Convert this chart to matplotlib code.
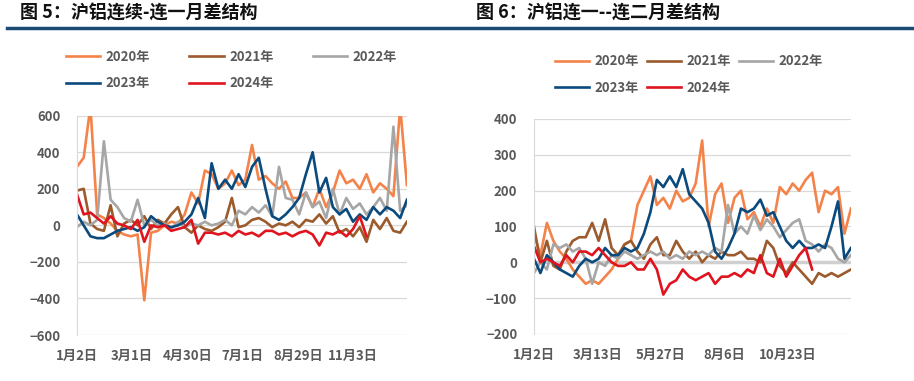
import numpy as np
import matplotlib
matplotlib.use("Agg")
import matplotlib.pyplot as plt

plt.rcParams['font.family'] = ['Noto Sans CJK SC', 'DejaVu Sans']

# values read every 5 trading days (day 0 = 1月2日)
years = ['2020年', '2021年', '2022年', '2023年', '2024年']
colors = ['#F4834A', '#9C5B2C', '#A6A6A6', '#0B4A7D', '#E0141F']

# 图5: 连续-连一
left_2020 = [320, 370, 650, 60, 40, 10, -30, -50, -60, -50, -410, -40, -30, 0, 20, 10,
             60, 180, 120, 300, 280, 200, 230, 300, 220, 250, 440, 250, 270, 230, 200,
             240, 150, 150, 180, 100, 200, 100, 180, 300, 230, 250, 200, 280, 180, 230,
             200, 160, 650, 220]
left_2021 = [190, 200, 10, -20, -30, 110, -60, 10, 30, 0, 50, -20, 30, 10, 60, 100,
             -10, -40, 0, -20, -30, -10, 20, 150, -10, 0, 30, 40, 20, -10, 10, 0, 20,
             -10, 30, 20, 60, 10, 50, -40, -20, -60, -10, -90, 30, -20, 40, -30, -40, 20]
left_2022 = [-10, 20, 0, 30, 460, 140, 100, 40, 20, 140, 0, 30, 0, 10, -20, 20, -10,
             10, 0, 20, 0, 10, 30, 0, 80, 60, 100, 70, 110, 50, 320, 150, 140, 60, 180,
             100, 130, 40, 200, 60, 150, 90, 120, 60, 100, 150, 80, 540, 80, 110]
left_2023 = [60, 0, -60, -70, -70, -50, -30, -20, -10, -30, -10, 50, 20, 0, -10, 0, 20,
             60, 150, 40, 340, 200, 250, 200, 280, 210, 320, 370, 200, 50, 30, 60, 100,
             150, 280, 400, 180, 260, 100, 60, 90, 20, 60, 30, 100, 60, 100, 80, 40, 140]
left_2024 = [170, 60, 70, 40, 10, 50, 10, 0, -20, 30, -90, 0, -10, 0, -30, -20, -10, 30,
             -100, -40, -40, -50, -40, -60, -30, -50, -40, -60, -30, -30, -50, -40, -60,
             -40, -30, -50, -110, -40, -50, -30, -60, -20, 50, -60]

# 图6: 连一-连二
right_2020 = [80, 20, 110, 60, 30, 10, -20, -40, -60, -50, -60, -40, -20, 10, 50, 60,
              160, 200, 240, 160, 180, 150, 200, 170, 180, 220, 340, 100, 190, 220, 110,
              180, 200, 120, 140, 100, 150, 110, 210, 190, 220, 200, 230, 250, 140, 200,
              190, 210, 80, 150]
right_2021 = [100, 0, 60, -10, -20, 30, 60, 70, 70, 110, 60, 120, 40, 20, 50, 60, 30, 10,
              50, 70, 20, 20, 60, 30, 10, 30, 0, 20, 10, 30, 20, 20, 30, 10, 10, 0, 60,
              40, -10, -30, 0, -20, -40, -60, -30, -40, -30, -40, -30, -20]
right_2022 = [-30, 0, -20, 50, 40, 50, 30, 40, 10, -60, 0, -10, 20, 10, 30, 20, 10, 20,
              30, 20, 30, 10, 20, 10, 30, 20, 30, 20, 40, 30, 160, 80, 100, 80, 130, 90,
              120, 100, 70, 90, 110, 120, 60, 50, 30, 50, 40, 10, 0, 20]
right_2023 = [10, -30, 20, 0, -20, -30, -40, -10, 10, 0, 10, 40, 20, 20, 40, 30, 40, 80,
              140, 230, 210, 240, 210, 260, 190, 170, 150, 110, 30, 10, 40, 80, 150, 140,
              150, 175, 130, 140, 100, 60, 40, 60, 40, 40, 50, 40, 100, 170, 10, 40]
right_2024 = [45, 0, 10, 0, -10, 20, 0, 30, 30, 20, 40, 20, 0, -10, -10, 0, -20, -20, 10,
              -20, -90, -60, -50, -20, -40, -50, -40, -30, -60, -40, -40, -30, -40, -20,
              -30, 20, -30, -40, 10, -40, -10, 20, 40, -20]

left_ticks = [0, 41, 82, 123, 164, 205]
left_labels = ['1月2日', '3月1日', '4月30日', '7月1日', '8月29日', '11月3日']
right_ticks = [0, 49, 98, 147, 196]
right_labels = ['1月2日', '3月13日', '5月27日', '8月6日', '10月23日']

fig = plt.figure(figsize=(9.14, 3.81), dpi=100)
txt = '#595959'


def draw_panel(rect, series, ylim, ystep, ticks, labels, title, tx, leg_xy, colsp):
    ax = fig.add_axes(rect)
    lines = []
    for vals, c, lab in zip(series, colors, years):
        x = np.arange(len(vals)) * 5
        ln, = ax.plot(x, vals, color=c, lw=1.9, label=lab, solid_joinstyle='round')
        lines.append(ln)
    ax.set_xlim(0, 245)
    ax.set_ylim(*ylim)
    ax.set_yticks(np.arange(ylim[0], ylim[1] + 1, ystep))
    ax.set_xticks(ticks)
    ax.set_xticklabels(labels)
    ax.grid(axis='y', color='#D9D9D9', lw=0.9)
    ax.set_axisbelow(True)
    for s in ['top', 'right', 'bottom']:
        ax.spines[s].set_visible(False)
    ax.spines['left'].set_color('#D9D9D9')
    ax.tick_params(length=0, labelsize=9.5, labelcolor=txt)
    ax.tick_params(axis='y', pad=12)
    ax.tick_params(axis='x', pad=10)
    for t in ax.get_xticklabels() + ax.get_yticklabels():
        t.set_fontweight('bold')
    fig.text(tx, 0.966, title, fontsize=13, fontweight='heavy', color='#111111', va='center')
    # legend filled column by column, so reorder to read row by row
    order = [0, 3, 1, 4, 2]
    leg = ax.legend([lines[i] for i in order], [years[i] for i in order],
                    loc='upper left', bbox_to_anchor=leg_xy, bbox_transform=fig.transFigure,
                    ncol=3, frameon=False, fontsize=9.5, handlelength=2.6, handletextpad=0.4,
                    columnspacing=colsp, labelspacing=0.95, borderaxespad=0, borderpad=0)
    for t in leg.get_texts():
        t.set_color(txt)
        t.set_fontweight('bold')
    return ax


axl = draw_panel([0.0842, 0.1207, 0.361, 0.5756],
                 [left_2020, left_2021, left_2022, left_2023, left_2024],
                 (-600, 600), 200, left_ticks, left_labels,
                 '图 5：沪铝连续-连一月差结构', 0.022, (0.072, 0.869), 3.0)
axr = draw_panel([0.5842, 0.1234, 0.3468, 0.5643],
                 [right_2020, right_2021, right_2022, right_2023, right_2024],
                 (-200, 400), 100, right_ticks, right_labels,
                 '图 6：沪铝连一--连二月差结构', 0.521, (0.607, 0.857), 0.6)
axr.axhline(0, color='#D0D0D0', lw=2.5, zorder=1)

fig.add_artist(plt.Line2D([0.008, 1.0], [0.926, 0.926], color='#1B4A74', lw=2.5))

fig.savefig('out.png', dpi=100)
